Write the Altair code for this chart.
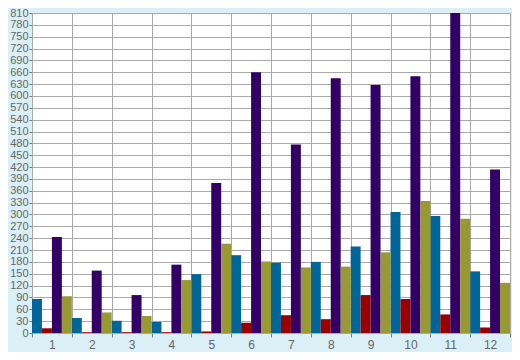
import altair as alt
import pandas as pd

groups = [str(i) for i in range(1, 13)]
series = ["A", "B", "C", "D"]
colors = ["#006699", "#990000", "#330066", "#999933"]
blue = [86, 38, 31, 28, 149, 197, 178, 180, 219, 306, 296, 156]
red = [12, 2, 2, 2, 4, 26, 45, 35, 96, 86, 47, 14]
purple = [243, 158, 96, 173, 380, 660, 477, 645, 628, 650, 810, 414]
olive = [93, 52, 43, 134, 226, 181, 166, 168, 204, 334, 289, 127]
y_ticks = list(range(0, 811, 30))

rows = []
for s, vals in zip(series, [blue, red, purple, olive]):
    for g, v in zip(groups, vals):
        rows.append({"g": g, "s": s, "v": v})
df = pd.DataFrame(rows)

chart = alt.Chart(df).mark_bar(strokeWidth=0).encode(
    x=alt.X("g:N", sort=groups, title=None,
            scale=alt.Scale(paddingInner=0, paddingOuter=0),
            axis=alt.Axis(labelAngle=0, grid=True, tickBand="extent", tickSize=4,
                          labelFontSize=12, labelColor="#666666", labelPadding=2,
                          tickColor="#777777", domainColor="#aaaaaa",
                          gridColor="#aaaaaa", labelFont="Liberation Sans")),
    xOffset=alt.XOffset("s:N", sort=series,
                        scale=alt.Scale(paddingInner=0, paddingOuter=0)),
    y=alt.Y("v:Q", title=None,
            scale=alt.Scale(domain=[0, 810], nice=False, zero=True),
            axis=alt.Axis(values=y_ticks, tickSize=3, labelFontSize=11,
                          labelColor="#666666", labelPadding=1,
                          tickColor="#777777", domainColor="#aaaaaa",
                          gridColor="#aaaaaa", labelFont="Liberation Sans")),
    color=alt.Color("s:N", sort=series,
                    scale=alt.Scale(domain=series, range=colors), legend=None),
).properties(
    width=478, height=320,
    autosize=alt.AutoSizeParams(type="none"),
    padding={"left": 24, "top": 5, "right": 2, "bottom": 19},
    background="#dbeff7",
).configure_view(fill="white", stroke="#aaaaaa")

chart.save("out.html", embed_options={"renderer": "svg", "actions": False})
